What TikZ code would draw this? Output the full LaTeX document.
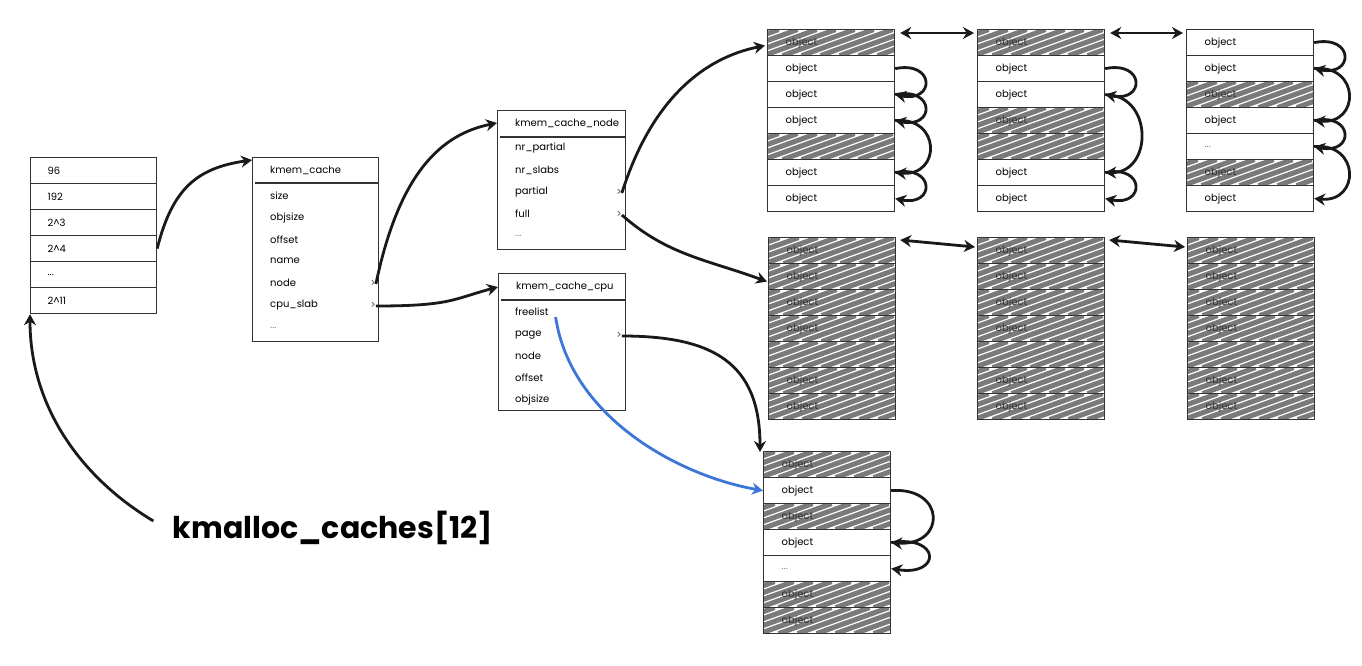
\documentclass[tikz,border=0pt]{standalone}
\usepackage{fontspec}
\setmainfont{Poppins}
\usetikzlibrary{arrows.meta,calc}
\definecolor{fbl}{HTML}{3C76D8}
\newcommand\tdots{...}
\newcommand\slabcol[4]{%
  \foreach \s/\t [count=\i] in {#4} {
    \node[\s] (#1-\i) at (#2,{#3+26*(\i-1)}) {\t};
  }%
}
\begin{document}
\begin{tikzpicture}[x=1pt,y=-1pt,
  line/.style={draw=black!80, line width=1.2pt},
  row/.style={line, minimum width=127pt, minimum height=26pt, anchor=north west, inner sep=0pt, inner xsep=18pt, text width=91pt, align=left, font=\fontsize{10}{12}\selectfont},
  plain/.style={row, fill=white},
  hat/.style={row, text=black!80, path picture={
      \foreach \k in {-80,-61,...,135}
        \draw[black!52, line width=5pt] ([xshift=\k pt]path picture bounding box.south west) -- ++(72pt,26pt);
    }},
  dots/.style={row, text=black!50},
  arow/.style={row, minimum width=126pt, inner xsep=17pt, text width=92pt},
  box/.style={line, anchor=north west, inner sep=0pt},
  fld/.style={anchor=west, inner sep=0pt, font=\fontsize{10}{12}\selectfont},
  gt/.style={inner sep=0pt, font=\fontsize{10}{12}\selectfont, text=black!70},
  link/.style={draw=black!90, line width=2.8pt, -{Stealth[length=11pt,width=12pt]}},
  dlink/.style={draw=black!90, line width=2.8pt, {Stealth[length=11pt,width=12pt]}-{Stealth[length=11pt,width=12pt]}},
  bluelink/.style={draw=fbl, line width=2.8pt, -{Stealth[length=11pt,width=12pt]}},
]
\useasboundingbox[fill=white] (0,0) rectangle (1362,666);

% kmalloc_caches array
\foreach \s/\t [count=\i] in {arow/96,arow/192,arow/2\textasciicircum 3,arow/2\textasciicircum 4,adots/\tdots,arow/2\textasciicircum 11} {
  \node[arow] (a\i) at (30,{157+26*(\i-1)}) {\t};
}

% kmem_cache
\node[box, minimum width=126pt, minimum height=184pt] (kc) at (252,157) {};
\draw[line, line width=1.6pt] ([xshift=3pt,yshift=-26pt]kc.north west) -- ([yshift=-26pt]kc.north east);
\node[fld] (kc-h) at (270,170) {kmem\_cache};
\node[fld] (kc-size) at (270,196) {size};
\node[fld] (kc-objsize) at (270,218) {objsize};
\node[fld] (kc-offset) at (270,240) {offset};
\node[fld] (kc-name) at (270,261) {name};
\node[fld] (kc-node) at (270,283) {node};
\node[fld] (kc-cpu) at (270,305) {cpu\_slab};
\node[fld, text=black!50] (kc-dots) at (270,328) {\tdots};
\node[gt] (kc-nodep) at (373,284) {>};
\node[gt] (kc-cpup) at (373,306) {>};

% kmem_cache_node
\node[box, minimum width=128pt, minimum height=139pt] (kn) at (497,110) {};
\draw[line, line width=1.6pt] ([xshift=3pt,yshift=-27pt]kn.north west) -- ([yshift=-27pt]kn.north east);
\node[fld] (kn-h) at (515,123) {kmem\_cache\_node};
\node[fld] (kn-nrp) at (515,148) {nr\_partial};
\node[fld] (kn-nrs) at (515,170) {nr\_slabs};
\node[fld] (kn-partial) at (515,192) {partial};
\node[fld] (kn-full) at (515,214) {full};
\node[fld, text=black!50] (kn-dots) at (515,236) {\tdots};
\node[gt] (kn-partialp) at (619,193) {>};
\node[gt] (kn-fullp) at (619,215) {>};

% kmem_cache_cpu
\node[box, minimum width=127pt, minimum height=137pt] (kcc) at (498,273) {};
\draw[line, line width=1.6pt] ([xshift=3pt,yshift=-27pt]kcc.north west) -- ([yshift=-27pt]kcc.north east);
\node[fld] (kcc-h) at (516,287) {kmem\_cache\_cpu};
\node[fld] (kcc-free) at (515,312) {freelist};
\node[fld] (kcc-page) at (515,335) {page};
\node[fld] (kcc-node) at (515,356) {node};
\node[fld] (kcc-offset) at (515,378) {offset};
\node[fld] (kcc-objsize) at (515,400) {objsize};
\node[gt] (kcc-pagep) at (619,336) {>};

% slabs (partial list)
\slabcol{s1}{767}{29}{hat/object,plain/object,plain/object,plain/object,hat/{},plain/object,plain/object}
\slabcol{s2}{977}{29}{hat/object,plain/object,plain/object,hat/object,hat/{},plain/object,plain/object}
\slabcol{s3}{1186}{29}{plain/object,plain/object,hat/object,plain/object,dots/\tdots,hat/object,plain/object}
% slabs (full list)
\slabcol{s4}{768}{237}{hat/object,hat/object,hat/object,hat/object,hat/{},hat/object,hat/object}
\slabcol{s5}{977}{237}{hat/object,hat/object,hat/object,hat/object,hat/{},hat/object,hat/object}
\slabcol{s6}{1187}{237}{hat/object,hat/object,hat/object,hat/object,hat/{},hat/object,hat/object}
% cpu slab
\slabcol{b}{763}{451}{hat/object,plain/object,hat/object,plain/object,dots/\tdots,hat/object,hat/object}

% label
\node[font=\fontsize{30}{34}\selectfont\bfseries] (km) at (333,528) {kmalloc\_caches[12]};

% main connectors
\draw[link] ([xshift=-16pt,yshift=7pt]km.west) .. controls +(-75,-45) and +(0,90) .. (a6.south west);
\draw[link] (a4.east) .. controls +(15,-60) and +(-55,8) .. ([yshift=-3pt]kc.north west);
\draw[link] (kc-nodep.east) .. controls +(22,-105) and +(-60,12) .. (kn-h.west -| kn.west);
\draw[link] (kc-cpup.east) .. controls +(75,0) and +(-45,12) .. (kcc-h.west -| kcc.west);
\draw[link] (kn-partialp.east) .. controls +(30,-95) and +(-60,12) .. ($(s1-1.west)+(-2,3)$);
\draw[link] (kn-fullp.east) .. controls +(45,40) and +(-60,-22) .. ($(s4-2.west)+(-1,5)$);
\draw[link] (kcc-pagep.east) .. controls +(90,0) and +(0,-90) .. ($(b-1.north west)+(-3,1)$);
\draw[bluelink] ($(kcc-free.east)+(7,5)$) .. controls +(15,100) and +(-85,-15) .. (b-2.west);

% free-object chains
\draw[link] (s1-2.east) .. controls +(40,-8) and +(40,8) .. (s1-3.east);
\draw[link] (s1-3.east) .. controls +(40,-8) and +(40,8) .. (s1-4.east);
\draw[link] (s1-4.east) .. controls +(46,-4) and +(46,4) .. (s1-6.east);
\draw[link] (s1-6.east) .. controls +(40,-8) and +(40,8) .. (s1-7.east);
\draw[link] (s2-2.east) .. controls +(40,-8) and +(40,8) .. (s2-3.east);
\draw[link] (s2-3.east) .. controls +(48,0) and +(48,0) .. (s2-6.east);
\draw[link] (s2-6.east) .. controls +(40,-8) and +(40,8) .. (s2-7.east);
\draw[link] (s3-1.east) .. controls +(40,-8) and +(40,8) .. (s3-2.east);
\draw[link] (s3-2.east) .. controls +(46,-4) and +(46,4) .. (s3-4.east);
\draw[link] (s3-4.east) .. controls +(40,-8) and +(40,8) .. (s3-5.east);
\draw[link] (s3-5.east) .. controls +(46,-4) and +(46,4) .. (s3-7.east);
\draw[link] (b-2.east) .. controls +(55,-4) and +(55,4) .. (b-4.east);
\draw[link] (b-4.east) .. controls +(50,-8) and +(50,8) .. (b-5.east);

% slab list links
\draw[dlink] ($(s1-1.north east)+(5,4)$) -- ($(s2-1.north west)+(-3,4)$);
\draw[dlink] ($(s2-1.north east)+(5,4)$) -- ($(s3-1.north west)+(-3,4)$);
\draw[dlink] ($(s4-1.north east)+(4,3)$) -- ($(s5-1.north west)+(-2,10)$);
\draw[dlink] ($(s5-1.north east)+(4,3)$) -- ($(s6-1.north west)+(-2,10)$);
\end{tikzpicture}
\end{document}
